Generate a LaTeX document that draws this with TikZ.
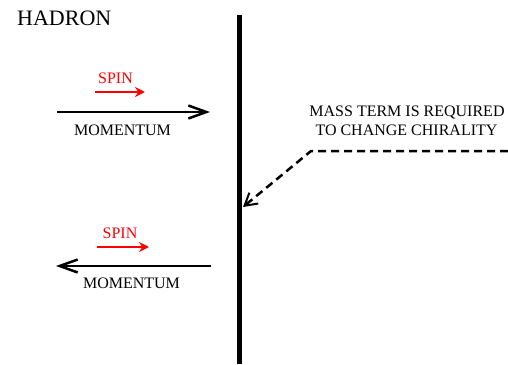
\documentclass[tikz,border=0pt]{standalone}
\usepackage{fontspec}
\setmainfont{Liberation Serif}
\usetikzlibrary{arrows.meta, positioning}

\begin{document}
\begin{tikzpicture}[x = 1pt, y = -1pt, font = \fontsize{16}{19}\selectfont,
    label/.style = {inner sep = 0pt, anchor = base},
    momentum/.style = {line width = 2.5pt, -{Straight Barb[length = 18pt, width = 13pt, line width = 2.5pt]}},
    spin/.style = {red, line width = 2.5pt, -{Stealth[length = 10pt, width = 10pt]}},
    wall/.style = {line width = 5pt},
    mass/.style = {line width = 2.5pt, dash pattern = on 8pt off 5pt, -{Straight Barb[length = 12pt, width = 14pt, line width = 2pt]}}]
  \useasboundingbox (0,0) rectangle (508,364);

  % the wall
  \coordinate (W1) at (239.5,15);
  \coordinate (W2) at (239.5,364);
  \draw[wall] (W1) -- (W2);
  \node[label, anchor = base west, font = \fontsize{22}{26}\selectfont] (H) at (17,25) {HADRON};

  % incoming
  \coordinate (P1) at (57,112);
  \coordinate (P2) at (210,112);
  \coordinate (S1) at (95,92);
  \coordinate (S2) at (145,92);
  \node[label, red] (spinA) at (115.5,83) {SPIN};
  \node[label] (momA) at (122.5,135) {MOMENTUM};
  \draw[spin] (S1) -- (S2);
  \draw[momentum] (P1) -- (P2);

  % outgoing
  \coordinate (Q1) at (211,266);
  \coordinate (Q2) at (56,266);
  \coordinate (T1) at (97,247);
  \coordinate (T2) at (149,247);
  \node[label, red] (spinB) at (120,238) {SPIN};
  \node[label] (momB) at (131.5,288) {MOMENTUM};
  \draw[spin] (T1) -- (T2);
  \draw[momentum] (Q1) -- (Q2);

  % mass term
  \node[label] (mass1) at (407,116) {MASS TERM IS REQUIRED};
  \node[label] (mass2) at (406.5,135) {TO CHANGE CHIRALITY};
  \coordinate (M1) at (508,151);
  \coordinate (M2) at (311,151);
  \coordinate (M3) at (243,207);
  \draw[mass] (M1) -- (M2) -- (M3);
\end{tikzpicture}
\end{document}
